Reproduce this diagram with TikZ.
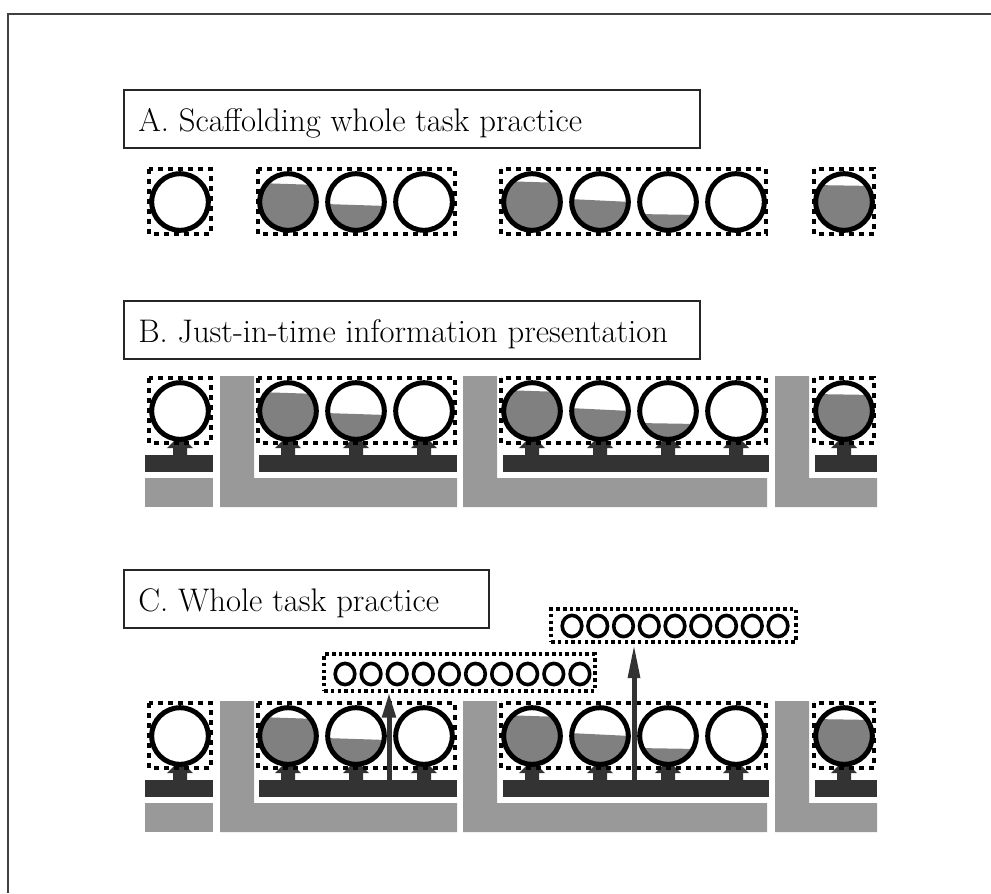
\documentclass[tikz,border=0pt]{standalone}
\usetikzlibrary{arrows.meta}
\definecolor{water}{HTML}{808080}
\definecolor{lgray}{HTML}{999999}
\definecolor{dgray}{HTML}{333333}
\tikzset{
  ring/.style={draw=black, line width=3.75pt},
  sring/.style={draw=black, line width=2.7pt},
  dotbox/.style={draw=black, line width=3.4pt, dash pattern=on 3.4pt off 4.1pt},
  sdotbox/.style={draw=black, line width=2.6pt, dash pattern=on 2.6pt off 2.4pt, inner sep=0pt},
  labelbox/.style={draw=black!85, line width=1.2pt, fill=white, inner sep=0pt},
  txt/.style={anchor=base west, inner sep=0pt, font=\fontsize{24.5}{29}\selectfont},
  darkbar/.style={fill=dgray},
  floor/.style={fill=lgray},
  frameline/.style={draw=black!75, line width=1.5pt},
  arrA/.style={draw=dgray, line width=3.75pt, -{Triangle[length=18.75pt,width=9.75pt]}},
  arrB/.style={draw=dgray, line width=3.75pt, -{Triangle[length=26pt,width=8.5pt]}}
}
\begin{document}
\begin{tikzpicture}[x=0.75pt,y=-0.75pt]
\useasboundingbox (0,0) rectangle (991,893);
\fill[white] (0,0) rectangle (991,893);
\draw[frameline] (8,893) -- (8,14) -- (991,14);

% labels
\node[labelbox, anchor=north west, minimum width=432pt, minimum height=43.5pt] (boxA) at (123,89) {};
\node[txt] (txtA) at (138,131) {A. Scaffolding whole task practice};
\node[labelbox, anchor=north west, minimum width=432pt, minimum height=43.5pt] (boxB) at (123,300) {};
\node[txt] (txtB) at (138,342) {B. Just-in-time information presentation};
\node[labelbox, anchor=north west, minimum width=273.75pt, minimum height=43.5pt] (boxC) at (123,569) {};
\node[txt] (txtC) at (138,611) {C. Whole task practice};

% floors, bars and pedestals for rows B and C
\foreach \yc in {411,736}{
  \fill[floor] (145,\yc+67) rectangle (213,\yc+96);
  \fill[floor] (220,\yc-35) -- (254,\yc-35) -- (254,\yc+67) -- (457,\yc+67) -- (457,\yc+96) -- (220,\yc+96) -- cycle;
  \fill[floor] (463,\yc-35) -- (497,\yc-35) -- (497,\yc+67) -- (767,\yc+67) -- (767,\yc+96) -- (463,\yc+96) -- cycle;
  \fill[floor] (775,\yc-35) -- (809,\yc-35) -- (809,\yc+67) -- (877,\yc+67) -- (877,\yc+96) -- (775,\yc+96) -- cycle;
  \fill[darkbar] (145,\yc+44) rectangle (213,\yc+61);
  \fill[darkbar] (259,\yc+44) rectangle (457,\yc+61);
  \fill[darkbar] (503,\yc+44) rectangle (769,\yc+61);
  \fill[darkbar] (815,\yc+44) rectangle (877,\yc+61);
  \foreach \x in {180,288,356,424,532,600,668,736,844}{
    \fill[darkbar] (\x-7,\yc+45) -- (\x-7,\yc+37) -- (\x-13,\yc+37) -- (\x-6,\yc+30) -- (\x+6,\yc+30) -- (\x+13,\yc+37) -- (\x+7,\yc+37) -- (\x+7,\yc+45) -- cycle;
  }
}

% tanks in all three rows
\foreach \yc in {202,411,736}{
  \foreach \x/\a/\b in {288/-19/-17, 356/2/4, 532/-21/-19, 600/-3/0, 668/12/13, 844/-17/-16}{
    \begin{scope}
      \clip (\x,\yc) circle[radius=27.5];
      \fill[water] ({\x-31},{\yc+\a}) -- ({\x+31},{\yc+\b}) -- ({\x+31},{\yc+31}) -- ({\x-31},{\yc+31}) -- cycle;
    \end{scope}
  }
  \foreach \x in {180,288,356,424,532,600,668,736,844}{
    \draw[ring] (\x,\yc) circle[radius=28.3];
  }
  \draw[dotbox] (149,\yc-33) rectangle (211,\yc+32);
  \draw[dotbox] (258,\yc-33) rectangle (455,\yc+32);
  \draw[dotbox] (501,\yc-33) rectangle (766,\yc+32);
  \draw[dotbox] (814,\yc-33) rectangle (874,\yc+32);
}

% practice sets in row C
\node[sdotbox, minimum width=203pt, minimum height=27.5pt] (set1) at (459.5,672.5) {};
\foreach \i in {0,...,9}{
  \draw[sring] ({345+26.1*\i},674) ellipse[x radius=9.8, y radius=10.6];
}
\node[sdotbox, minimum width=183.5pt, minimum height=24.5pt] (set2) at (673.5,625.5) {};
\foreach \i in {0,...,8}{
  \draw[sring] ({572+25.75*\i},626) ellipse[x radius=9.8, y radius=10.6];
}

\coordinate (a1) at (389,780);
\coordinate (a2) at (634,780);
\draw[arrA] (a1) -- (a1 |- set1.south);
\draw[arrB] (a2) -- (a2 |- set2.south);
\end{tikzpicture}
\end{document}
